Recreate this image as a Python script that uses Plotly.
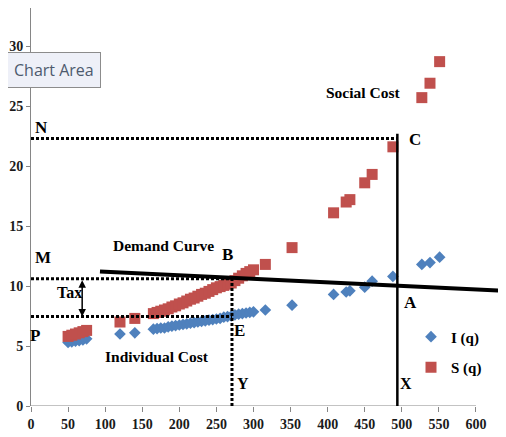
import plotly.graph_objects as go

# ---- data ----
q = [50, 55, 60, 65, 70, 75, 120, 140,
     165, 170, 175, 180, 185, 190, 195, 200, 205, 210, 215, 220, 225, 230,
     235, 240, 245, 250, 255, 260, 265, 270, 275, 280, 285, 290, 295, 300,
     316, 352, 408, 425, 430, 450, 460, 488, 527, 538, 551]
individual_cost = [5.3, 5.35, 5.4, 5.45, 5.5, 5.6, 6.0, 6.1,
                   6.4, 6.45, 6.5, 6.5, 6.6, 6.65, 6.7, 6.75, 6.8, 6.85, 6.9, 6.95, 7.0, 7.05,
                   7.1, 7.15, 7.2, 7.25, 7.3, 7.4, 7.45, 7.5, 7.6, 7.65, 7.7, 7.75, 7.8, 7.85,
                   8.0, 8.4, 9.3, 9.5, 9.6, 9.9, 10.4, 10.8, 11.8, 11.95, 12.4]
social_cost = [5.8, 5.9, 6.0, 6.1, 6.2, 6.3, 7.0, 7.3,
               7.7, 7.8, 7.9, 8.0, 8.1, 8.25, 8.35, 8.5, 8.6, 8.75, 8.9, 9.0, 9.15, 9.3,
               9.4, 9.55, 9.7, 9.85, 9.95, 10.05, 10.15, 10.25, 10.45, 10.65, 10.85, 11.05, 11.2, 11.35,
               11.8, 13.2, 16.1, 17.0, 17.2, 18.6, 19.3, 21.6, 25.7, 26.9, 28.7]

demand_q = [93, 640]
demand_p = [11.2, 9.6]

q_tax = 271        # quantity with tax (Y)
q_free = 494       # quantity without tax (X)
price_m = 10.6     # M
price_p = 7.45     # P
price_n = 22.3     # N
c_top = 22.7

x_ticks = [0, 50, 100, 150, 200, 250, 300, 350, 400, 450, 500, 550, 600]
y_ticks = [0, 5, 10, 15, 20, 25, 30]

BLUE = "#4F81BD"
RED = "#C0504D"
SERIF = "Liberation Serif"

fig = go.Figure()

fig.add_trace(go.Scatter(x=q, y=individual_cost, mode="markers", name="I (q)",
                         marker=dict(symbol="diamond", size=9, color=BLUE),
                         legendgroup="i"))
fig.add_trace(go.Scatter(x=q, y=social_cost, mode="markers", name="S (q)",
                         marker=dict(symbol="square", size=11, color=RED),
                         legendgroup="s"))

dot = dict(color="black", width=3, dash="3px,2px")
# dotted guide lines
fig.add_trace(go.Scatter(x=[0, q_free], y=[price_n, price_n], mode="lines", line=dot,
                         showlegend=False, hoverinfo="skip"))
fig.add_trace(go.Scatter(x=[0, q_tax], y=[price_m, price_m], mode="lines", line=dot,
                         showlegend=False, hoverinfo="skip"))
fig.add_trace(go.Scatter(x=[0, q_tax], y=[price_p, price_p], mode="lines", line=dot,
                         showlegend=False, hoverinfo="skip"))
fig.add_trace(go.Scatter(x=[q_tax, q_tax], y=[0, price_m], mode="lines", line=dot,
                         showlegend=False, hoverinfo="skip"))
# solid vertical X line
fig.add_trace(go.Scatter(x=[q_free, q_free], y=[0, c_top], mode="lines",
                         line=dict(color="black", width=2.5),
                         showlegend=False, hoverinfo="skip"))
# demand curve
fig.add_trace(go.Scatter(x=demand_q, y=demand_p, mode="lines",
                         line=dict(color="black", width=4),
                         showlegend=False, hoverinfo="skip"))

def label(x, y, text, size=15):
    fig.add_annotation(x=x, y=y, text=text, showarrow=False,
                       font=dict(family=SERIF, size=size, color="black", weight="bold"))

label(13.5, 23.25, "N", 17)
label(517.7, 22.2, "C", 17)
label(447.6, 26.1, "Social Cost", 15.5)
label(16.2, 12.4, "M", 17)
label(178, 13.4, "Demand Curve", 15.5)
label(265.6, 12.6, "B", 17)
label(52, 9.5, "Tax", 16)
label(5.4, 5.9, "P", 17)
label(281.8, 6.3, "E", 17)
label(169.9, 4.1, "Individual Cost", 15.5)
label(285.8, 1.9, "Y", 16)
label(512.3, 8.6, "A", 17)
label(505.6, 1.9, "X", 16)

# Tax double arrow
fig.add_annotation(x=69, y=price_p, ax=69, ay=price_m, xref="x", yref="y",
                   axref="x", ayref="y", showarrow=True, arrowhead=2,
                   startarrowhead=2, arrowside="end+start", arrowwidth=1.5,
                   arrowsize=1, startarrowsize=1, arrowcolor="black",
                   standoff=0, startstandoff=0, text="")

# Excel "Chart Area" tooltip
fig.add_annotation(x=31.5, y=28.0, xref="x", yref="y", text="Chart Area", showarrow=False,
                   font=dict(family="Open Sans", size=16, color="#4d5a6e"),
                   bgcolor="#eef0f8", bordercolor="#8c8c8c", borderwidth=1, borderpad=6)

# x axis line only up to 600
fig.add_shape(type="line", xref="x", yref="y", x0=0, x1=x_ticks[-1], y0=0, y1=0,
              line=dict(color="#868686", width=1), layer="below")

# page body has an 8px margin, so the figure is sized/offset to compensate
fig.update_layout(
    width=498, height=429,
    margin=dict(l=23, r=0, t=0, b=31),
    paper_bgcolor="white", plot_bgcolor="white",
    showlegend=True,
    legend=dict(x=0.80, y=0.215, xanchor="left", yanchor="top",
                bgcolor="rgba(0,0,0,0)", tracegroupgap=8,
                font=dict(family=SERIF, size=15, color="black", weight="bold")),
    xaxis=dict(range=[0, 640.5], tickvals=x_ticks, showgrid=False, zeroline=False,
               showline=False, ticks="outside", ticklen=5, tickcolor="#868686",
               tickfont=dict(family=SERIF, size=14, color="#1a1a1a", weight="bold")),
    yaxis=dict(range=[0, 33.17], tickvals=y_ticks, showgrid=False, zeroline=False,
               showline=True, linecolor="#868686", linewidth=1,
               ticks="outside", ticklen=4, tickcolor="#868686",
               tickfont=dict(family=SERIF, size=14, color="#1a1a1a", weight="bold")),
)

fig.write_html("out.html")
